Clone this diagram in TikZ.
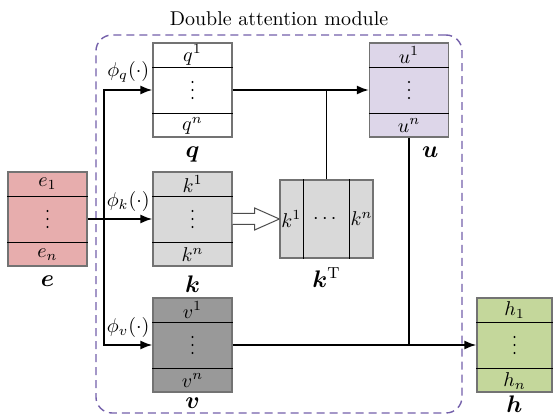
\documentclass[tikz,border=0pt]{standalone}
\usepackage{amsmath,amssymb,bm}
\usetikzlibrary{arrows.meta,positioning,calc}

\definecolor{epink}{RGB}{231,173,173}
\definecolor{kgray}{RGB}{217,217,217}
\definecolor{vgray}{RGB}{153,153,153}
\definecolor{ulav}{RGB}{221,214,233}
\definecolor{hgreen}{RGB}{196,215,155}
\definecolor{modpurple}{RGB}{115,95,170}

\begin{document}
\begin{tikzpicture}[
    x=0.0176cm, y=-0.0176cm,
    vec/.style={rectangle, draw=black!55, line width=0.6pt, minimum width=1.39cm, minimum height=1.654cm, inner sep=0},
    cell/.style={inner sep=0},
    divider/.style={line width=0.6pt},
    tag/.style={font=\large},
    flow/.style={-{Latex[length=6pt,width=4.5pt]}, line width=0.9pt},
    link/.style={line width=0.9pt},
    hollow/.style={draw=black!70, fill=white, line width=0.5pt}
]
    \useasboundingbox (0,0) rectangle (553,417);

    % module frame
    \node[draw=modpurple, dashed, dash pattern=on 4pt off 2.5pt, line width=0.7pt, rounded corners=8pt, minimum width=6.44cm, minimum height=6.65cm] (module) at (279,224) {};
    \node[above=1pt of module.north] (title) {Double attention module};

    % boxes
    \node[vec, fill=epink] (e) at (47.5,219) {};
    \node[vec, fill=white] (q) at (192.5,90) {};
    \node[vec, fill=kgray] (k) at (192.5,219) {};
    \node[vec, fill=vgray] (v) at (192.5,345) {};
    \node[vec, fill=ulav] (u) at (409,90) {};
    \node[vec, fill=hgreen, minimum width=1.32cm] (h) at (514.5,345) {};
    \node[vec, fill=kgray, minimum width=1.637cm, minimum height=1.373cm] (kT) at (326.5,219) {};

    \foreach \b in {e,q,k,v,u,h} {
        \draw[divider] ($(\b.north west)+(0,25)$) -- ($(\b.north east)+(0,25)$)
                       ($(\b.south west)+(0,-24)$) -- ($(\b.south east)+(0,-24)$);
        \foreach \d in {-8,0,8}
            \fill ($(\b.center)+(0,\d)$) circle (0.55pt);
    }
    \draw[divider] ($(kT.north west)+(24,0)$) -- ($(kT.south west)+(24,0)$)
                   ($(kT.north east)+(-24,0)$) -- ($(kT.south east)+(-24,0)$);

    % cell entries
    \node[cell] (e1) at ($(e.north)+(0,12.5)$) {$e_1$};
    \node[cell] (en) at ($(e.south)+(0,-12)$) {$e_n$};
    \node[cell] (q1) at ($(q.north)+(0,12.5)$) {$q^1$};
    \node[cell] (qn) at ($(q.south)+(0,-12)$) {$q^n$};
    \node[cell] (k1) at ($(k.north)+(0,12.5)$) {$k^1$};
    \node[cell] (kn) at ($(k.south)+(0,-12)$) {$k^n$};
    \node[cell] (v1) at ($(v.north)+(0,12.5)$) {$v^1$};
    \node[cell] (vn) at ($(v.south)+(0,-12)$) {$v^n$};
    \node[cell] (u1) at ($(u.north)+(0,12.5)$) {$u^1$};
    \node[cell] (un) at ($(u.south)+(0,-12)$) {$u^n$};
    \node[cell] (h1) at ($(h.north)+(0,12.5)$) {$h_1$};
    \node[cell] (hn) at ($(h.south)+(0,-12)$) {$h_n$};
    \node[cell] (kT1) at ($(kT.west)+(12,0)$) {$k^1$};
    \node[cell] (kTd) at (kT.center) {$\cdots$};
    \node[cell] (kTn) at ($(kT.east)+(-12,0)$) {$k^n$};

    % names
    \node[tag, below=1pt of e] (eName) {$\bm{e}$};
    \node[tag, below=1pt of q] (qName) {$\bm{q}$};
    \node[tag, below=1pt of k] (kName) {$\bm{k}$};
    \node[tag, below=-1pt of v] (vName) {$\bm{v}$};
    \node[tag, below=1pt of kT] (kTName) {$\bm{k}^{\mathrm{T}}$};
    \node[tag, below right=1pt and 3pt of u.south] (uName) {$\bm{u}$};
    \node[tag, below=-2pt of h] (hName) {$\bm{h}$};

    % connectors
    \coordinate (split) at (104,219);
    \draw[link] (e) -- (split);
    \draw[flow] (split) -- node[midway, above] {$\phi_k(\cdot)$} (k);
    \draw[flow] (split) |- node[pos=0.75, above] {$\phi_q(\cdot)$} (q);
    \draw[flow] (split) |- node[pos=0.75, above] {$\phi_v(\cdot)$} (v);
    \draw[flow] (q) -- (u);
    \draw[flow] (v) -- (h);
    \draw[link] (kT.north) -- (kT.north |- q.east);
    \draw[link] (u.south) -- (u.south |- h.west);
    \draw[hollow] ($(k.east)+(0,-5.5)$) -- ($(k.east)+(22,-5.5)$) -- ($(k.east)+(22,-11)$)
        -- (kT.west) -- ($(k.east)+(22,11)$) -- ($(k.east)+(22,5.5)$) -- ($(k.east)+(0,5.5)$);
\end{tikzpicture}
\end{document}
